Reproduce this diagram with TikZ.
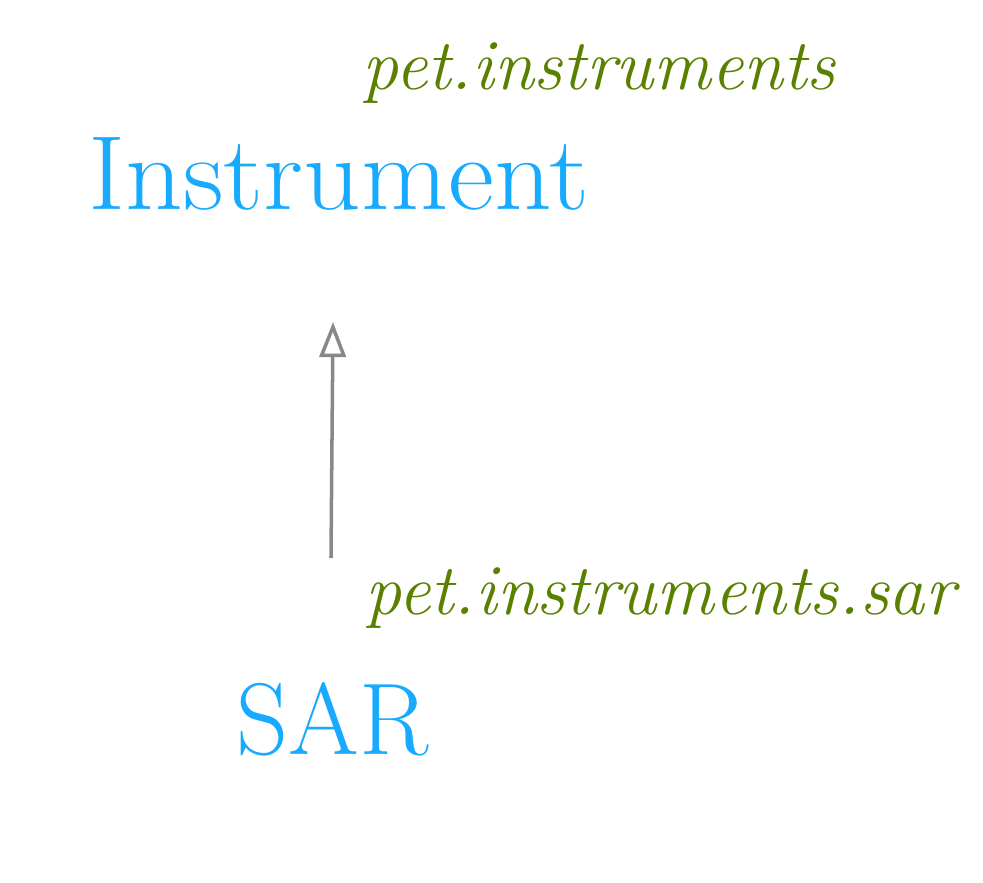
\documentclass[tikz,border=0pt]{standalone}
\usetikzlibrary{arrows.meta}
\definecolor{clsblue}{HTML}{17AAFF}
\definecolor{pkggreen}{HTML}{5A8000}
\definecolor{arrgray}{HTML}{888888}
\tikzset{
  classname/.style={inner sep=0pt, anchor=base west, text=clsblue, font=\fontsize{30}{34}\selectfont},
  pkgname/.style={inner sep=0pt, anchor=base west, text=pkggreen, font=\fontsize{20.5}{24}\selectfont\itshape},
  inherit/.style={draw=arrgray, line width=1pt, -{Triangle[open, length=10pt, width=7.5pt, line width=1pt]}}
}
\begin{document}
\begin{tikzpicture}
\useasboundingbox (0,0) rectangle (9.83,8.83);
\node[pkgname] (pkg1) at (3.62,7.93) {pet.instruments};
\node[classname] (inst) at (0.88,6.73) {\scalebox{1.07}[1]{Instrument}};
\node[pkgname] (pkg2) at (3.65,2.68) {pet.instruments.sar};
\node[classname, font=\fontsize{29}{34}\selectfont] (sar) at (2.36,1.28) {SAR};
\coordinate (from) at (3.31,3.25);
\coordinate (to) at (3.33,5.61);
\draw[inherit] (from) -- (to);
\end{tikzpicture}
\end{document}
